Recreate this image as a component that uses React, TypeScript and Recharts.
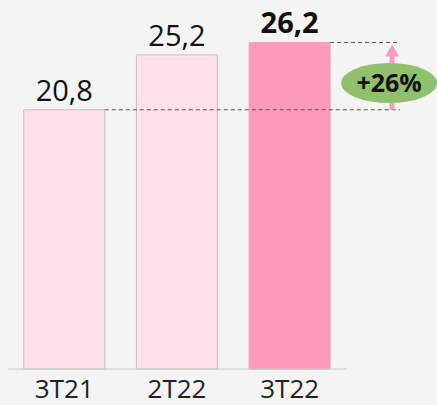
import React from 'react';
import { BarChart, Bar, XAxis, YAxis, Cell, LabelList } from 'recharts';

const periods = ['3T21', '2T22', '3T22'];
const values = [20.8, 25.2, 26.2];
const valueLabels = ['20,8', '25,2', '26,2'];
const growthLabel = '+26%';

const fills = ['#fde0ea', '#fde0ea', '#fc9abb'];
const FONT = '"Open Sans", "Noto Sans", sans-serif';

const data = periods.map((p, i) => ({ period: p, value: values[i] }));

function ValueLabel(props: any) {
  const { x, y, width, height, index } = props;
  const cx = x + width / 2;
  const last = index === values.length - 1;
  const text = (
    <text
      x={cx}
      y={y - 9}
      textAnchor="middle"
      fontSize={29}
      fontWeight={last ? 700 : 400}
      fill="#111"
      fontFamily={FONT}
    >
      {valueLabels[index]}
    </text>
  );
  if (!last) return text;

  // y of the first bar's value, through this bar's own scale
  const baseline = y + height;
  const pxPerUnit = height / values[index];
  const yBase = baseline - values[0] * pxPerUnit;
  const lineEnd = x + width + 70;
  const arrowX = x + width + 62;
  const midY = (y + yBase) / 2 + 7;

  return (
    <g>
      {text}
      <line x1={x + width} x2={lineEnd} y1={y} y2={y} stroke="#555" strokeDasharray="4 3" />
      <line x1={arrowX} x2={arrowX} y1={yBase} y2={y + 12} stroke="#f59cc2" strokeWidth={5} />
      <polygon points={`${arrowX - 7},${y + 14} ${arrowX + 7},${y + 14} ${arrowX},${y + 2}`} fill="#f59cc2" />
      <ellipse cx={arrowX - 3} cy={midY} rx={48} ry={20} fill="#8fc06c" />
      <text x={arrowX - 3} y={midY + 9} textAnchor="middle" fontSize={25} fontWeight={700} fill="#111" fontFamily={FONT}>
        {growthLabel}
      </text>
    </g>
  );
}

function BaseLine(props: any) {
  const { x, y, width, index } = props;
  if (index !== 0) return null;
  return <line x1={x + width} x2={400} y1={y} y2={y} stroke="#555" strokeDasharray="4 3" />;
}

export default function App() {
  return (
    <div style={{ position: 'fixed', left: 0, top: 0, width: 437, height: 405, background: '#f4f4f4' }}>
      <BarChart
        width={437}
        height={405}
        data={data}
        margin={{ top: 20, right: 91, left: 8, bottom: 0 }}
        barCategoryGap="14%"
      >
        <XAxis
          dataKey="period"
          height={36}
          tickLine={false}
          axisLine={{ stroke: '#c8c8c8' }}
          tickMargin={5}
          tick={{ fontSize: 26, fill: '#222', fontFamily: FONT }}
        />
        <YAxis hide domain={[0, 28]} />
        <Bar dataKey="value" strokeWidth={1} isAnimationActive={false}>
          {data.map((d, i) => (
            <Cell key={d.period} fill={fills[i]} stroke={i === 2 ? '#f59cc0' : '#c4c4c4'} />
          ))}
          <LabelList dataKey="value" content={BaseLine} />
          <LabelList dataKey="value" content={ValueLabel} />
        </Bar>
      </BarChart>
    </div>
  );
}
